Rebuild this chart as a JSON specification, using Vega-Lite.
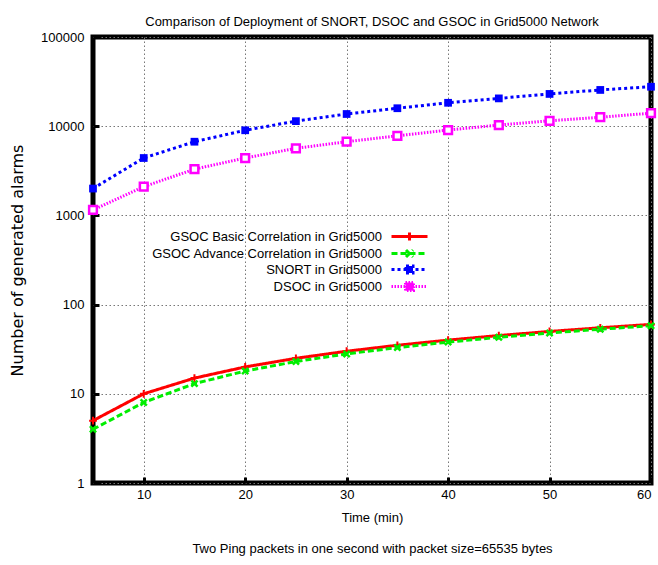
{
  "$schema": "https://vega.github.io/schema/vega-lite/v6.json",
  "width": 558,
  "height": 446,
  "autosize": {"type": "none"},
  "padding": {"left": 93, "top": 37, "right": 7, "bottom": 82},
  "background": "white",
  "title": {
    "text": "Comparison of Deployment of SNORT, DSOC and GSOC in Grid5000 Network",
    "font": "Liberation Sans",
    "fontSize": 13,
    "fontWeight": "normal",
    "color": "black",
    "anchor": "middle",
    "frame": "group",
    "baseline": "alphabetic",
    "offset": 10,
    "dy": 18
  },
  "config": {
    "view": {"stroke": "black", "strokeWidth": 5},
    "axis": {
      "domain": false,
      "grid": true,
      "gridColor": "#777777",
      "gridDash": [1.5, 2.5],
      "gridWidth": 1,
      "gridOpacity": 1,
      "ticks": true,
      "tickColor": "black",
      "tickWidth": 3,
      "tickSize": -6,
      "labelFont": "Liberation Sans",
      "labelFontSize": 13,
      "labelColor": "black",
      "titleColor": "black",
      "titleFontWeight": "normal"
    },
    "legend": {
      "labelFont": "Liberation Sans",
      "labelFontSize": 13,
      "labelColor": "black",
      "labelLimit": 400
    }
  },
  "data": {
    "values": [
      {"t": 5, "series": "GSOC Basic Correlation in Grid5000", "v": 5},
      {"t": 10, "series": "GSOC Basic Correlation in Grid5000", "v": 10},
      {"t": 15, "series": "GSOC Basic Correlation in Grid5000", "v": 15},
      {"t": 20, "series": "GSOC Basic Correlation in Grid5000", "v": 20},
      {"t": 25, "series": "GSOC Basic Correlation in Grid5000", "v": 25},
      {"t": 30, "series": "GSOC Basic Correlation in Grid5000", "v": 30},
      {"t": 35, "series": "GSOC Basic Correlation in Grid5000", "v": 35},
      {"t": 40, "series": "GSOC Basic Correlation in Grid5000", "v": 40},
      {"t": 45, "series": "GSOC Basic Correlation in Grid5000", "v": 45},
      {"t": 50, "series": "GSOC Basic Correlation in Grid5000", "v": 50},
      {"t": 55, "series": "GSOC Basic Correlation in Grid5000", "v": 55},
      {"t": 60, "series": "GSOC Basic Correlation in Grid5000", "v": 60},
      {"t": 5, "series": "GSOC Advance Correlation in Grid5000", "v": 4},
      {"t": 10, "series": "GSOC Advance Correlation in Grid5000", "v": 8},
      {"t": 15, "series": "GSOC Advance Correlation in Grid5000", "v": 13},
      {"t": 20, "series": "GSOC Advance Correlation in Grid5000", "v": 18},
      {"t": 25, "series": "GSOC Advance Correlation in Grid5000", "v": 23},
      {"t": 30, "series": "GSOC Advance Correlation in Grid5000", "v": 28},
      {"t": 35, "series": "GSOC Advance Correlation in Grid5000", "v": 33},
      {"t": 40, "series": "GSOC Advance Correlation in Grid5000", "v": 38},
      {"t": 45, "series": "GSOC Advance Correlation in Grid5000", "v": 43},
      {"t": 50, "series": "GSOC Advance Correlation in Grid5000", "v": 48},
      {"t": 55, "series": "GSOC Advance Correlation in Grid5000", "v": 53},
      {"t": 60, "series": "GSOC Advance Correlation in Grid5000", "v": 58},
      {"t": 5, "series": "SNORT in Grid5000", "v": 2000},
      {"t": 10, "series": "SNORT in Grid5000", "v": 4400},
      {"t": 15, "series": "SNORT in Grid5000", "v": 6700},
      {"t": 20, "series": "SNORT in Grid5000", "v": 9000},
      {"t": 25, "series": "SNORT in Grid5000", "v": 11400},
      {"t": 30, "series": "SNORT in Grid5000", "v": 13700},
      {"t": 35, "series": "SNORT in Grid5000", "v": 15900},
      {"t": 40, "series": "SNORT in Grid5000", "v": 18300},
      {"t": 45, "series": "SNORT in Grid5000", "v": 20500},
      {"t": 50, "series": "SNORT in Grid5000", "v": 23000},
      {"t": 55, "series": "SNORT in Grid5000", "v": 25500},
      {"t": 60, "series": "SNORT in Grid5000", "v": 27700},
      {"t": 5, "series": "DSOC in Grid5000", "v": 1150},
      {"t": 10, "series": "DSOC in Grid5000", "v": 2100},
      {"t": 15, "series": "DSOC in Grid5000", "v": 3300},
      {"t": 20, "series": "DSOC in Grid5000", "v": 4400},
      {"t": 25, "series": "DSOC in Grid5000", "v": 5650},
      {"t": 30, "series": "DSOC in Grid5000", "v": 6700},
      {"t": 35, "series": "DSOC in Grid5000", "v": 7800},
      {"t": 40, "series": "DSOC in Grid5000", "v": 9050},
      {"t": 45, "series": "DSOC in Grid5000", "v": 10300},
      {"t": 50, "series": "DSOC in Grid5000", "v": 11500},
      {"t": 55, "series": "DSOC in Grid5000", "v": 12600},
      {"t": 60, "series": "DSOC in Grid5000", "v": 14000}
    ]
  },
  "encoding": {
    "x": {
      "field": "t",
      "type": "quantitative",
      "scale": {"domain": [5, 60], "nice": false, "zero": false},
      "axis": {
        "values": [10, 20, 30, 40, 50, 60],
        "labelPadding": 11,
        "title": ["Time (min)", "Two Ping packets in one second with packet size=65535 bytes"],
        "titleFont": "Liberation Sans",
        "titleFontSize": 13,
        "titleLineHeight": 31,
        "titlePadding": 10
      }
    },
    "y": {
      "field": "v",
      "type": "quantitative",
      "scale": {"type": "log", "domain": [1, 100000], "nice": false},
      "axis": {
        "values": [1, 10, 100, 1000, 10000, 100000],
        "format": "d",
        "labelPadding": 15,
        "title": "Number of generated alarms",
        "titleFont": "DejaVu Sans",
        "titleFontSize": 16,
        "titleAngle": -90,
        "titleX": -71,
        "titleY": 223,
        "titleAlign": "center",
        "titleBaseline": "alphabetic"
      }
    }
  },
  "layer": [
    {
      "mark": {"type": "line", "strokeWidth": 3},
      "encoding": {
        "color": {
          "field": "series",
          "type": "nominal",
          "scale": {
            "domain": ["GSOC Basic Correlation in Grid5000", "GSOC Advance Correlation in Grid5000", "SNORT in Grid5000", "DSOC in Grid5000"],
            "range": ["#ff0000", "#00ee00", "#0000ff", "#ff00ff"]
          }
        },
        "strokeDash": {
          "field": "series",
          "type": "nominal",
          "scale": {
            "domain": ["GSOC Basic Correlation in Grid5000", "GSOC Advance Correlation in Grid5000", "SNORT in Grid5000", "DSOC in Grid5000"],
            "range": [[1, 0], [6, 3], [3, 3], [1.5, 1.5]]
          },
          "legend": {
            "title": null,
            "orient": "none",
            "legendX": 310,
            "legendY": 193,
            "padding": 0,
            "rowPadding": -3,
            "fillColor": "white",
            "labelAlign": "right",
            "labelOffset": -34,
            "symbolSize": 100,
            "symbolStrokeWidth": 3,
            "encode": {
              "symbols": {
                "update": {
                  "shape": {"signal": "datum.value == 'GSOC Basic Correlation in Grid5000' ? 'M-3.6,0H3.6M0,-0.8V0.8' : datum.value == 'GSOC Advance Correlation in Grid5000' ? 'M-3.6,0H3.6M-0.7,-0.7L0.7,0.7M-0.7,0.7L0.7,-0.7' : datum.value == 'SNORT in Grid5000' ? 'M-3.6,0H3.6M-0.7,-0.7H0.7V0.7H-0.7Z' : 'M-3.6,0H3.6M-0.8,-0.8H0.8V0.8H-0.8Z'"},
                  "fill": {"signal": "datum.value == 'SNORT in Grid5000' ? '#0000ff' : datum.value == 'DSOC in Grid5000' ? '#ff00ff' : 'transparent'"}
                }
              }
            }
          }
        }
      }
    },
    {
      "transform": [{"filter": "datum.series == 'GSOC Basic Correlation in Grid5000'"}],
      "mark": {"type": "point", "shape": "M-1,0H1M0,-1V1", "filled": false, "stroke": "#ff0000", "strokeWidth": 2, "size": 60, "opacity": 1}
    },
    {
      "transform": [{"filter": "datum.series == 'GSOC Advance Correlation in Grid5000'"}],
      "mark": {"type": "point", "shape": "M-0.8,-0.8L0.8,0.8M-0.8,0.8L0.8,-0.8", "filled": false, "stroke": "#00ee00", "strokeWidth": 2.5, "size": 60, "opacity": 1}
    },
    {
      "transform": [{"filter": "datum.series == 'SNORT in Grid5000'"}],
      "mark": {"type": "point", "shape": "square", "filled": true, "fill": "#0000ff", "size": 60, "opacity": 1}
    },
    {
      "transform": [{"filter": "datum.series == 'DSOC in Grid5000'"}],
      "mark": {"type": "point", "shape": "square", "filled": false, "fill": "#ffffff", "stroke": "#ff00ff", "strokeWidth": 2.5, "size": 60, "opacity": 1}
    }
  ]
}
